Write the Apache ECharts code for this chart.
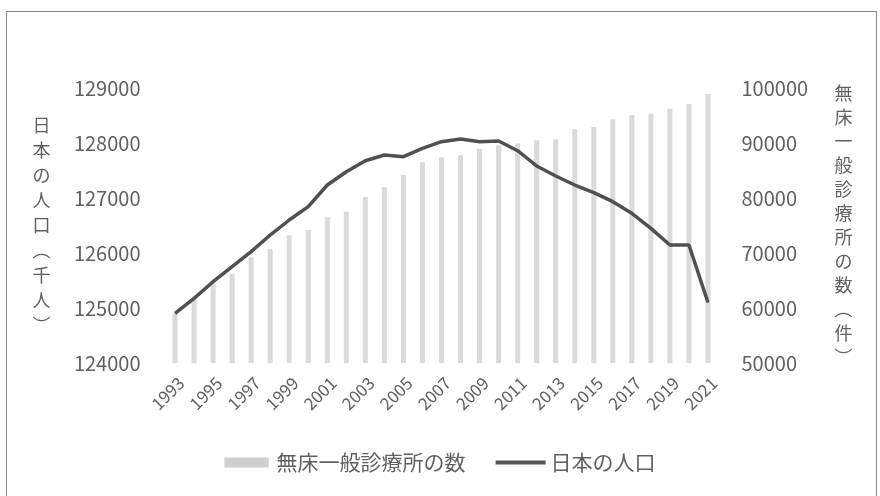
<!DOCTYPE html>
<html>
<head>
<meta charset="utf-8">
<script src="https://cdn.jsdelivr.net/npm/echarts@6/dist/echarts.min.js"></script>
<style>
  html, body { margin: 0; padding: 0; background: #fff; }
  #frame { position: absolute; left: 6px; top: 11px; width: 871px; height: 500px; border: 1px solid #8a8a8a; box-sizing: border-box; }
  #chart { position: absolute; left: 0; top: 0; width: 880px; height: 496px; }
</style>
</head>
<body>
<div id="frame"></div>
<div id="chart"></div>
<script>
// Years on the category axis
const years = ['1993','1994','1995','1996','1997','1998','1999','2000','2001','2002',
  '2003','2004','2005','2006','2007','2008','2009','2010','2011','2012',
  '2013','2014','2015','2016','2017','2018','2019','2020','2021'];

// Number of general clinics without beds (right axis)
const clinics = [59000, 62000, 65000, 66200, 69200, 70700, 73200, 74200, 76500, 77500,
  80200, 82000, 84200, 86500, 87400, 87800, 88900, 89600, 89900, 90500,
  90700, 92500, 92900, 94300, 95100, 95300, 96200, 97100, 98900];

// Population of Japan, thousands (left axis)
const population = [124904, 125176, 125478, 125751, 126024, 126327, 126600, 126842, 127236, 127478,
  127678, 127782, 127751, 127903, 128024, 128073, 128024, 128036, 127860, 127582,
  127400, 127236, 127097, 126933, 126721, 126448, 126145, 126145, 125100];

const seriesNames = ['無床一般診療所の数', '日本の人口'];
const leftAxisName = '日本の人口（千人）';
const rightAxisName = '無床一般診療所の数（件）';

// Stack CJK characters vertically, swapping brackets for vertical forms
function verticalText(s) {
  return Array.from(s).map(c => c === '（' ? '︵' : c === '）' ? '︶' : c).join('\n');
}

const textColor = '#5f5f5f';
const font = '"Noto Sans CJK JP", "Noto Sans", sans-serif';
const plain = v => String(v);

const chart = echarts.init(document.getElementById('chart'), null, { renderer: 'canvas' });
chart.setOption({
  animation: false,
  backgroundColor: 'transparent',
  textStyle: { fontFamily: font, color: textColor },
  grid: { left: 165.5, right: 162.5, top: 88, bottom: 133, containLabel: false },
  legend: {
    bottom: 18,
    left: 'center',
    itemGap: 30,
    itemWidth: 50,
    itemHeight: 10,
    textStyle: { color: textColor, fontSize: 21, fontFamily: font },
    data: [
      { name: seriesNames[0], icon: 'path://M0 0H40V9H0Z', itemStyle: { color: '#cfcfcf' } },
      { name: seriesNames[1], icon: 'path://M0 0H50V4H0Z', itemStyle: { color: '#555555' } }
    ]
  },
  xAxis: {
    type: 'category',
    data: years,
    axisLine: { show: false },
    axisTick: { show: false },
    axisLabel: {
      interval: 1, rotate: 45, fontSize: 17, color: textColor, margin: 11,
      align: 'right', verticalAlign: 'top', fontFamily: font
    }
  },
  yAxis: [
    {
      type: 'value',
      min: 124000, max: 129000, interval: 1000,
      position: 'left',
      axisLine: { show: false },
      axisTick: { show: false },
      splitLine: { show: false },
      axisLabel: { fontSize: 20, color: textColor, margin: 25, fontFamily: font, formatter: plain },
      name: verticalText(leftAxisName),
      nameLocation: 'middle',
      nameGap: 115,
      nameRotate: 0,
      nameTextStyle: { fontSize: 18, lineHeight: 25, color: textColor, fontFamily: font }
    },
    {
      type: 'value',
      min: 50000, max: 100000, interval: 10000,
      position: 'right',
      axisLine: { show: false },
      axisTick: { show: false },
      splitLine: { show: false },
      axisLabel: { fontSize: 20, color: textColor, margin: 24, fontFamily: font, formatter: plain },
      name: verticalText(rightAxisName),
      nameLocation: 'middle',
      nameGap: 117,
      nameRotate: 0,
      nameTextStyle: { fontSize: 18, lineHeight: 24, color: textColor, fontFamily: font }
    }
  ],
  series: [
    {
      name: seriesNames[0],
      type: 'bar',
      yAxisIndex: 1,
      data: clinics,
      barWidth: 5,
      itemStyle: { color: '#dadada' }
    },
    {
      name: seriesNames[1],
      type: 'line',
      yAxisIndex: 0,
      data: population,
      symbol: 'none',
      lineStyle: { color: '#505050', width: 3.5 },
      itemStyle: { color: '#505050' }
    }
  ]
});
</script>
</body>
</html>
